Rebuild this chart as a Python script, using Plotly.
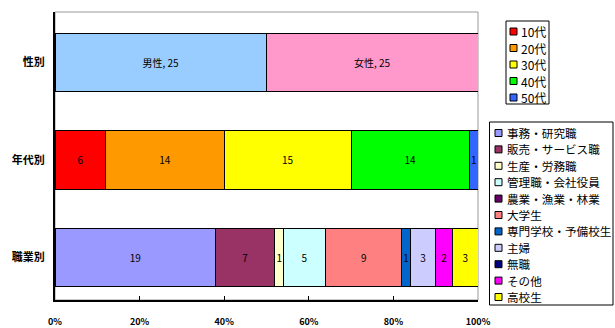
import plotly.graph_objects as go

categories = ["性別", "年代別", "職業別"]

gender_names = ["男性", "女性"]
gender_values = [25, 25]
gender_colors = ["#99CCFF", "#FF99CC"]

age_names = ["10代", "20代", "30代", "40代", "50代"]
age_values = [6, 14, 15, 14, 1]
age_colors = ["#FF0000", "#FF9900", "#FFFF00", "#00FF00", "#3366FF"]

job_names = ["事務・研究職", "販売・サービス職", "生産・労務職", "管理職・会社役員",
             "農業・漁業・林業", "大学生", "専門学校・予備校生", "主婦", "無職",
             "その他", "高校生"]
job_values = [19, 7, 1, 5, 0, 9, 1, 3, 0, 2, 3]
job_colors = ["#9999FF", "#993366", "#FFFFCC", "#CCFFFF", "#660066", "#FF8080",
              "#0066CC", "#CCCCFF", "#000080", "#FF00FF", "#FFFF00"]

x_ticks = [0, 20, 40, 60, 80, 100]
x_ticktext = ["0%", "20%", "40%", "60%", "80%", "100%"]

FONT = "Noto Sans CJK JP"
W, H = 615, 328
ML, MR, MT, MB = 55, 137, 12, 28
PW, PH = W - ML - MR, H - MT - MB


def px(x):
    return (x - ML) / PW


def py(y):
    return (H - MB - y) / PH


fig = go.Figure()


def add(name, val, color, cat, text):
    fig.add_trace(go.Bar(
        x=[val], y=[cat], orientation="h", name=name,
        marker=dict(color=color, line=dict(color="#000000", width=1)),
        text=[text] if val > 0 else [""], textposition="inside",
        insidetextanchor="middle",
        textfont=dict(family=FONT, size=10, color="#000000"),
        showlegend=False, hoverinfo="name+x",
    ))


for n, v, c in zip(gender_names, gender_values, gender_colors):
    add(n, v, c, categories[0], f"{n}, {v}")
for n, v, c in zip(age_names, age_values, age_colors):
    add(n, v, c, categories[1], str(v))
for n, v, c in zip(job_names, job_values, job_colors):
    add(n, v, c, categories[2], str(v))

shapes = [dict(type="rect", xref="x domain", yref="y domain", x0=0, x1=1, y0=0, y1=1,
               line=dict(color="#999999", width=1), layer="below")]
annotations = []


def legend_box(names, colors, left, top, right, bottom, first_cy, step, sw_x, tx_x, fs):
    shapes.append(dict(type="rect", xref="paper", yref="paper",
                       x0=px(left), x1=px(right), y0=py(bottom), y1=py(top),
                       line=dict(color="#000000", width=1), fillcolor="white",
                       layer="above"))
    for i, (n, c) in enumerate(zip(names, colors)):
        cy = first_cy + i * step
        shapes.append(dict(type="rect", xref="paper", yref="paper",
                           x0=px(sw_x), x1=px(sw_x + 7), y0=py(cy + 3.5), y1=py(cy - 3.5),
                           line=dict(color="#000000", width=1), fillcolor=c,
                           layer="above"))
        annotations.append(dict(xref="paper", yref="paper", x=px(tx_x), y=py(cy),
                                xanchor="left", yanchor="middle", showarrow=False,
                                text=n, font=dict(family=FONT, size=fs, color="#000000")))


legend_box(age_names, age_colors, 506, 21, 549, 104, 31.5, 16.5, 510, 519, 12)
legend_box(job_names, job_colors, 489.5, 122, 613, 305, 133, 16.4, 495, 504.5, 11.6)

fig.update_layout(
    width=W, height=H,
    barmode="stack", barnorm="percent", bargap=0.405,
    paper_bgcolor="white", plot_bgcolor="white",
    margin=dict(l=ML, r=MR, t=MT, b=MB, autoexpand=False),
    font=dict(family=FONT, size=11, color="#000000"),
    uniformtext=dict(minsize=10, mode="show"),
    showlegend=False,
    shapes=shapes, annotations=annotations,
)
fig.update_xaxes(range=[0, 100], tickvals=x_ticks, ticktext=x_ticktext,
                 showgrid=False, zeroline=False, showline=True, linecolor="#000000",
                 linewidth=2, ticks="inside", ticklen=4, tickcolor="#000000",
                 ticklabelstandoff=12,
                 tickfont=dict(family=FONT, size=9, color="#000000", weight="bold"))
fig.update_yaxes(categoryorder="array", categoryarray=categories[::-1],
                 range=[-0.436, 2.518],
                 showgrid=False, showline=True, linecolor="#000000", linewidth=2,
                 ticks="", ticklabelstandoff=6,
                 tickfont=dict(family=FONT, size=11, color="#000000", weight="bold"))

fig.write_html("out.html")
